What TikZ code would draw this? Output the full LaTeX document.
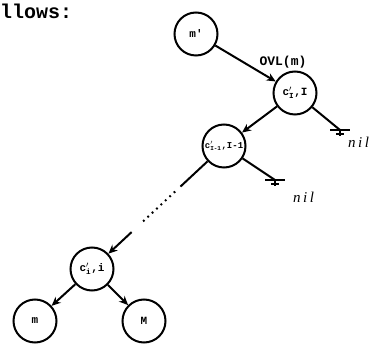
\documentclass[tikz,border=0pt]{standalone}
\usepackage{amsmath}
\usepackage{fontspec}
\setmainfont{Liberation Serif}
\setmonofont{Liberation Mono}
\usetikzlibrary{arrows.meta,calc}
\begin{document}
\begin{tikzpicture}[x=1pt,y=-1pt,
  nd/.style={circle,draw,line width=2pt,minimum size=43pt,inner sep=0pt,font=\ttfamily\bfseries\fontsize{11}{11}\selectfont},
  ln/.style={line width=2pt},
  arr/.style={ln,-{Stealth[length=9pt,width=8pt]}},
  dots/.style={line width=2pt,dash pattern=on 1.8pt off 4.2pt},
  bar/.style={line width=2.4pt},
  niltxt/.style={font=\itshape\fontsize{15}{15}\selectfont,inner sep=0pt,anchor=base west}]
\useasboundingbox (0,0) rectangle (372,344);
\node[anchor=base west,font=\ttfamily\bfseries\fontsize{20}{20}\selectfont,inner sep=0pt] (txt) at (0,19) {llows:};
\node[nd] (mp) at (196,34) {m'};
\node[nd] (cI) at (295,93) {c$'_{\texttt{I}}$,I};
\node[nd] (cI1) at (224,146) {\fontsize{9}{9}\selectfont c$'_{\texttt{I-1}}$,I-1};
\node[nd] (ci) at (92,269) {c$'_{\texttt{i}}$,i};
\node[nd] (m) at (35,321) {m};
\node[nd] (M) at (144,321) {M};
\draw[arr] (mp) -- node[pos=0.7,above right,inner sep=1pt,font=\ttfamily\bfseries\fontsize{13}{13}\selectfont] (lbl) {OVL(m)} (cI);
\draw[arr] (cI) -- (cI1);
% ground 1
\coordinate (g1) at (340,130);
\draw[ln] (cI) -- (g1);
\draw[bar] ($(g1)+(-10,0)$) -- ($(g1)+(10,0)$);
\draw[line width=1.6pt] ($(g1)+(-4,4)$) -- ($(g1)+(4,4)$);
\draw[line width=1.4pt] (g1) -- ($(g1)+(0,6)$);
\node[niltxt] (nil1) at (348,148) {n\kern2.5pt i\kern2.5pt l};
% ground 2
\coordinate (g2) at (275,180);
\draw[ln] (cI1) -- (g2);
\draw[bar] ($(g2)+(-10,0)$) -- ($(g2)+(10,0)$);
\draw[line width=1.6pt] ($(g2)+(-4,4)$) -- ($(g2)+(4,4)$);
\draw[line width=1.4pt] (g2) -- ($(g2)+(0,6)$);
\node[niltxt] (nil2) at (293,203) {n\kern2.5pt i\kern2.5pt l};
% dotted chain
\coordinate (d1) at ($(cI1)!0.33!(ci)$);
\coordinate (d2) at ($(cI1)!0.37!(ci)$);
\coordinate (d3) at ($(cI1)!0.63!(ci)$);
\coordinate (d4) at ($(cI1)!0.70!(ci)$);
\draw[ln] (cI1) -- (d1);
\draw[dots] (d2) -- (d3);
\draw[arr] (d4) -- (ci);
\draw[arr] (ci) -- (m);
\draw[arr] (ci) -- (M);
\end{tikzpicture}
\end{document}
